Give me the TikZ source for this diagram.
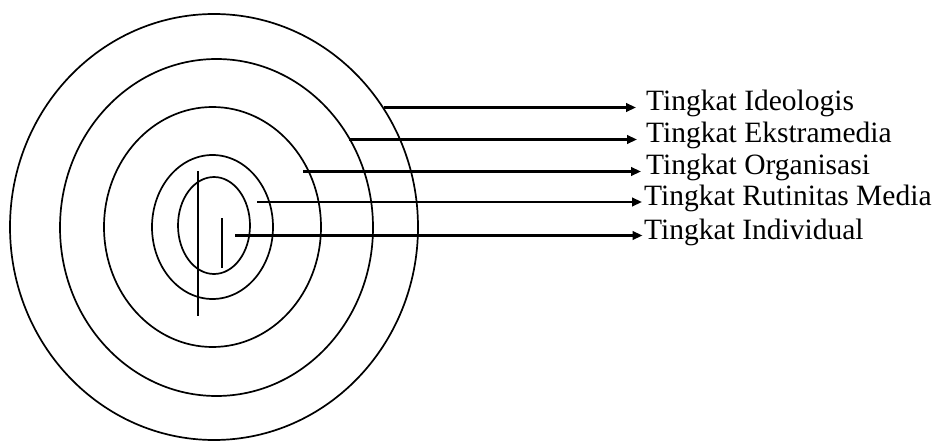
\documentclass[tikz,border=0pt]{standalone}
\usepackage{fontspec}
\setmainfont{Liberation Serif}
\usetikzlibrary{arrows.meta}
\tikzset{
  ring/.style={draw=black, line width=1.7pt},
  tick/.style={draw=black, line width=1.8pt},
  arr/.style={draw=black, line width=2.3pt, -{Triangle[length=10pt,width=8.5pt]}},
  lab/.style={anchor=base west, inner sep=0pt, font=\fontsize{29.5}{32}\selectfont}
}
\begin{document}
\begin{tikzpicture}[x=1pt,y=-1pt]
\useasboundingbox (0,0) rectangle (934,441);
% rings
\draw[ring] (214,227) ellipse [x radius=204, y radius=213];
\draw[ring] (216.5,227.5) ellipse [x radius=156.5, y radius=168.5];
\draw[ring] (212.5,227) ellipse [x radius=108.5, y radius=120];
\draw[ring] (212.5,227) ellipse [x radius=60.5, y radius=72];
\draw[ring] (214,225.5) ellipse [x radius=36, y radius=48.5];
% inner ticks
\draw[tick] (198,171) -- (198,316);
\draw[tick] (222,218) -- (222,268);
% labels
\node[lab] (t1) at (646,110.5) {Tingkat Ideologis};
\node[lab] (t2) at (646,142.5) {Tingkat Ekstramedia};
\node[lab] (t3) at (646,174.5) {Tingkat Organisasi};
\node[lab] (t4) at (644,205.5) {Tingkat Rutinitas Media};
\node[lab] (t5) at (644,239) {Tingkat Individual};
% start points
\coordinate (s1) at (384,107.5);
\coordinate (s2) at (349,139.5);
\coordinate (s3) at (303,171.5);
\coordinate (s4) at (257,202);
\coordinate (s5) at (235,235.5);
% connectors
\draw[arr, shorten >=10pt] (s1) -- (s1 -| t1.west);
\draw[arr, shorten >=9pt] (s2) -- (s2 -| t2.west);
\draw[arr, shorten >=5pt] (s3) -- (s3 -| t3.west);
\draw[arr, shorten >=2pt] (s4) -- (s4 -| t4.west);
\draw[arr, shorten >=1.5pt] (s5) -- (s5 -| t5.west);
\end{tikzpicture}
\end{document}
